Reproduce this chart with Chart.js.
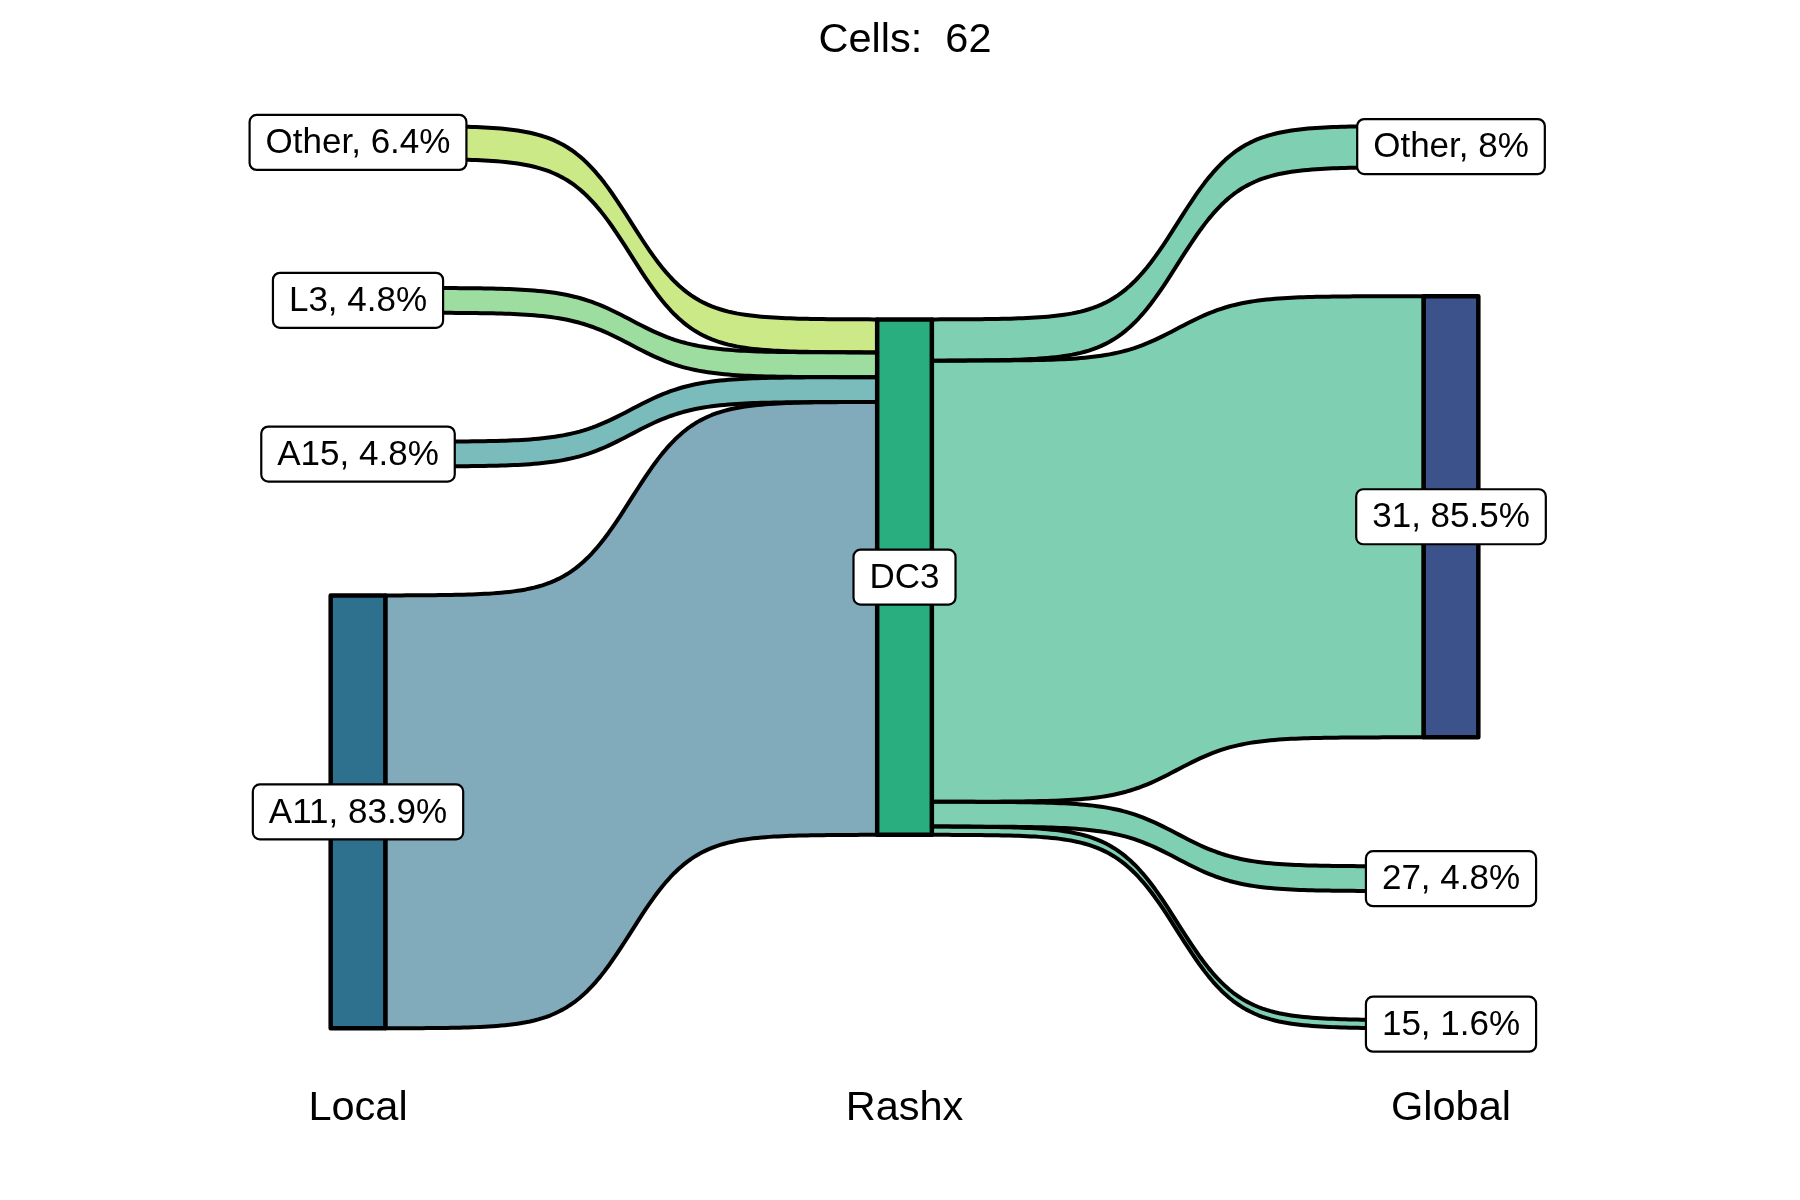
<!DOCTYPE html>
<html>
<head>
<meta charset="utf-8">
<script src="https://cdn.jsdelivr.net/npm/chart.js@4.4.1/dist/chart.umd.min.js"></script>
<style>
  html, body { margin: 0; padding: 0; background: #fff; }
  #wrap { width: 1800px; height: 1200px; }
</style>
</head>
<body>
<div id="wrap"><canvas id="sankey"></canvas></div>
<script>
const titleText = 'Cells:  62';
const stages = ['Local', 'Rashx', 'Global'];

// nodes per stage, top to bottom, values are % of cells
const localNodes = ['Other', 'L3', 'A15', 'A11'];
const localPct = [6.4, 4.8, 4.8, 83.9];
const localColors = ['#A8DA37', '#5CC861', '#21908F', '#2D718E'];

const rashxNodes = ['DC3'];
const rashxPct = [99.9];
const rashxColors = ['#29AF7F'];

const globalNodes = ['Other', '31', '27', '15'];
const globalPct = [8, 85.5, 4.8, 1.6];
const globalColors = ['#482878', '#3B528B', '#31688E', '#443A83'];

// flows between stages
const flowStage = [0, 0, 0, 0, 1, 1, 1, 1];
const flowSource = ['Other', 'L3', 'A15', 'A11', 'DC3', 'DC3', 'DC3', 'DC3'];
const flowTarget = ['DC3', 'DC3', 'DC3', 'DC3', 'Other', '31', '27', '15'];
const flowValue = [6.4, 4.8, 4.8, 83.9, 8, 85.5, 4.8, 1.6];

const FONT = "'Liberation Sans', Arial, sans-serif";
const NODE_GAP = 25;     // space between nodes, in value units
const NODE_WIDTH = 0.1;  // in x units
const FLOW_ALPHA = 0.6;

// build node layout (value-space positions), each column centred on 0
function buildColumns() {
    const cols = [
        { names: localNodes, values: localPct, colors: localColors },
        { names: rashxNodes, values: rashxPct, colors: rashxColors },
        { names: globalNodes, values: globalPct, colors: globalColors }
    ];
    return cols.map((col, stage) => {
        const total = col.values.reduce((a, b) => a + b, 0) + (col.values.length - 1) * NODE_GAP;
        let top = total / 2;
        return col.names.map((name, i) => {
            const node = {
                stage: stage,
                name: name,
                value: col.values[i],
                color: col.colors[i],
                top: top,
                bottom: top - col.values[i],
                outUsed: 0,
                inUsed: 0
            };
            top -= col.values[i] + NODE_GAP;
            return node;
        });
    });
}

function hexToRgba(hex, a) {
    const r = parseInt(hex.slice(1, 3), 16);
    const g = parseInt(hex.slice(3, 5), 16);
    const b = parseInt(hex.slice(5, 7), 16);
    return `rgba(${r}, ${g}, ${b}, ${a})`;
}

// logistic curve like ggsankey (smooth = 8)
function sigmoidPoints(x0, x1, y0, y1, n) {
    const smooth = 8;
    const lo = 1 / (1 + Math.exp(smooth));
    const hi = 1 / (1 + Math.exp(-smooth));
    const pts = [];
    for (let k = 0; k < n; k++) {
        const t = -smooth + (2 * smooth * k) / (n - 1);
        const s = (1 / (1 + Math.exp(-t)) - lo) / (hi - lo);
        pts.push([x0 + (x1 - x0) * k / (n - 1), y0 + (y1 - y0) * s]);
    }
    return pts;
}

function roundRect(ctx, x, y, w, h, r) {
    ctx.beginPath();
    ctx.moveTo(x + r, y);
    ctx.lineTo(x + w - r, y);
    ctx.arcTo(x + w, y, x + w, y + r, r);
    ctx.lineTo(x + w, y + h - r);
    ctx.arcTo(x + w, y + h, x + w - r, y + h, r);
    ctx.lineTo(x + r, y + h);
    ctx.arcTo(x, y + h, x, y + h - r, r);
    ctx.lineTo(x, y + r);
    ctx.arcTo(x, y, x + r, y, r);
    ctx.closePath();
}

const sankeyPlugin = {
    id: 'sankeyDraw',
    afterDatasetsDraw(chart) {
        const ctx = chart.ctx;
        const xs = chart.scales.x;
        const ys = chart.scales.y;
        const columns = buildColumns();
        const find = (stage, name) => columns[stage].find(n => n.name === name);

        ctx.save();

        // flows
        flowValue.forEach((v, i) => {
            const src = find(flowStage[i], flowSource[i]);
            const tgt = find(flowStage[i] + 1, flowTarget[i]);
            const sTop = src.top - src.outUsed;
            const tTop = tgt.top - tgt.inUsed;
            src.outUsed += v;
            tgt.inUsed += v;

            const x0 = xs.getPixelForValue(src.stage + NODE_WIDTH / 2);
            const x1 = xs.getPixelForValue(tgt.stage - NODE_WIDTH / 2);
            const upper = sigmoidPoints(x0, x1, ys.getPixelForValue(sTop), ys.getPixelForValue(tTop), 120);
            const lower = sigmoidPoints(x0, x1, ys.getPixelForValue(sTop - v), ys.getPixelForValue(tTop - v), 120);

            ctx.beginPath();
            upper.forEach((p, k) => k ? ctx.lineTo(p[0], p[1]) : ctx.moveTo(p[0], p[1]));
            for (let k = lower.length - 1; k >= 0; k--) ctx.lineTo(lower[k][0], lower[k][1]);
            ctx.closePath();
            ctx.fillStyle = hexToRgba(src.color, FLOW_ALPHA);
            ctx.fill();
            ctx.lineWidth = 4;
            ctx.strokeStyle = '#000';
            ctx.lineJoin = 'round';
            ctx.stroke();
        });

        // nodes
        columns.flat().forEach(n => {
            const xl = xs.getPixelForValue(n.stage - NODE_WIDTH / 2);
            const xr = xs.getPixelForValue(n.stage + NODE_WIDTH / 2);
            const yt = ys.getPixelForValue(n.top);
            const yb = ys.getPixelForValue(n.bottom);
            ctx.fillStyle = n.color;
            ctx.fillRect(xl, yt, xr - xl, yb - yt);
            ctx.lineWidth = 4.5;
            ctx.strokeStyle = '#000';
            ctx.strokeRect(xl, yt, xr - xl, yb - yt);
        });

        // labels
        ctx.font = `35px ${FONT}`;
        ctx.textAlign = 'center';
        ctx.textBaseline = 'middle';
        columns.flat().forEach(n => {
            const text = n.stage === 1 ? n.name : `${n.name}, ${n.value}%`;
            const cx = xs.getPixelForValue(n.stage);
            const cy = ys.getPixelForValue((n.top + n.bottom) / 2);
            const w = ctx.measureText(text).width + 32;
            const h = 55;
            roundRect(ctx, cx - w / 2, cy - h / 2, w, h, 7);
            ctx.fillStyle = '#fff';
            ctx.fill();
            ctx.lineWidth = 2.2;
            ctx.strokeStyle = '#000';
            ctx.stroke();
            ctx.fillStyle = '#000';
            ctx.fillText(text, cx, cy + 1);
        });

        ctx.restore();
    }
};

document.addEventListener('DOMContentLoaded', () => {
    new Chart(document.getElementById('sankey'), {
        type: 'scatter',
        data: { datasets: [{ data: [] }] },
        plugins: [sankeyPlugin],
        options: {
            responsive: true,
            maintainAspectRatio: false,
            devicePixelRatio: 1,
            animation: false,
            layout: { padding: { left: 10, right: 0, top: 0, bottom: 33 } },
            plugins: {
                legend: { display: false },
                tooltip: { enabled: false },
                title: {
                    display: true,
                    text: titleText,
                    color: '#000',
                    font: { family: FONT, size: 41.5, weight: 'normal' },
                    padding: { top: 16, bottom: 16 }
                }
            },
            scales: {
                x: {
                    type: 'linear',
                    min: -0.6368,
                    max: 2.6386,
                    afterBuildTicks: axis => {
                        axis.ticks = stages.map((s, i) => ({ value: i }));
                    },
                    ticks: {
                        callback: v => stages[v] ?? '',
                        color: '#000',
                        font: { family: FONT, size: 41.5 },
                        padding: 34,
                        maxRotation: 0,
                        autoSkip: false
                    },
                    grid: { display: false, drawTicks: false },
                    border: { display: false }
                },
                y: {
                    display: false,
                    min: -91.5,
                    max: 96.0
                }
            }
        }
    });
});
</script>
</body>
</html>
